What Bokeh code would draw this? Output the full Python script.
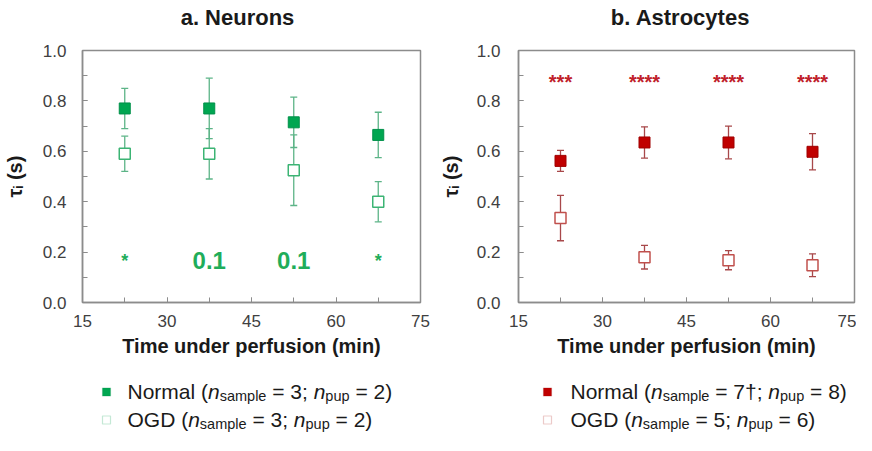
import math
from bokeh.plotting import figure
from bokeh.models import (ColumnDataSource, Whisker, TeeHead, Label, BoxAnnotation,
                          SingleIntervalTicker, Range1d, PrintfTickFormatter)
from bokeh.layouts import row, column
from bokeh.embed import file_html
from bokeh.resources import INLINE
from bokeh.core.properties import value

# ---------------- data ----------------
times = [22.5, 37.5, 52.5, 67.5]
neuron_normal = [0.77, 0.77, 0.715, 0.665]
neuron_normal_err = [0.08, 0.12, 0.10, 0.09]
neuron_ogd = [0.59, 0.59, 0.525, 0.40]
neuron_ogd_err = [0.07, 0.10, 0.14, 0.08]
astro_normal = [0.562, 0.635, 0.635, 0.598]
astro_normal_err = [0.042, 0.062, 0.065, 0.072]
astro_ogd = [0.335, 0.18, 0.168, 0.148]
astro_ogd_err = [0.09, 0.047, 0.038, 0.045]
neuron_sig = ["*", "0.1", "0.1", "*"]
astro_sig = ["***", "****", "****", "****"]
titles = ["a. Neurons", "b. Astrocytes"]
x_label = "Time under perfusion (min)"
y_label = "\u03c4\u1d62 (s)"
legend_neuron = [("Normal (", "3", "2)"), ("OGD (", "3", "2)")]
legend_astro = [("Normal (", "7\u2020", "8)"), ("OGD (", "5", "6)")]

FONT = "Liberation Sans"
GREEN = "#00a651"
GREEN_EDGE = "#00904a"
GREEN_BAR = "#5cb487"
GREEN_OPEN = "#3cb474"
RED = "#c00000"
RED_EDGE = "#a00000"
RED_BAR = "#a8484a"
RED_OPEN = "#c0504d"
AXIS = "#8c8c8c"
TICKTXT = "#404040"
DARK = "#1a1a1a"

# Arial/Liberation metrics (per 1000 em)
W = {' ': 278, '(': 333, ')': 333, ';': 278, '=': 584, 'N': 722, 'o': 556, 'r': 333,
     'm': 833, 'a': 556, 'l': 222, 'n': 556, 's': 500, 'p': 556, 'e': 556, 'u': 556,
     'O': 778, 'G': 778, 'D': 722, '\u2020': 556, 'i': 222}

TOP_H = 34
MAIN_H = 330
LEG_H = 71


def tw(t, size, table=W):
    return sum(table.get(c, 556) for c in t) * size / 1000.0


def blank(width, height):
    p = figure(width=width, height=height, x_range=Range1d(0, width), y_range=Range1d(height, 0),
               output_backend="svg", toolbar_location=None, min_border=0,
               x_axis_type=None, y_axis_type=None)
    p.grid.visible = False
    p.outline_line_color = None
    return p


def make_title(width, title, cx):
    p = blank(width, TOP_H)
    p.add_layout(Label(x=cx, y=17, x_units="canvas", y_units="canvas", text=title,
                       text_font=FONT, text_font_size="22px", text_font_style="bold",
                       text_color=DARK, text_align="center", text_baseline="alphabetic"))
    return p


def make_panel(width, bl, br, ylab_stand, normal, nerr, ogd, oerr,
               sig, sig_y, sig_color, star_size, c_fill, c_edge, c_bar, c_open, ystand):
    p = figure(width=width, height=MAIN_H, x_range=Range1d(15, 75), y_range=Range1d(0, 1),
               output_backend="svg", toolbar_location=None, min_border_left=bl,
               min_border_right=br, min_border_top=16, min_border_bottom=62)
    p.grid.visible = False
    p.outline_line_color = AXIS
    p.outline_line_width = 1.5
    p.xaxis.ticker = SingleIntervalTicker(interval=15, num_minor_ticks=2)
    p.yaxis.ticker = SingleIntervalTicker(interval=0.2, num_minor_ticks=2)
    p.yaxis.formatter = PrintfTickFormatter(format="%.1f")
    for ax in (p.xaxis[0], p.yaxis[0]):
        ax.axis_line_color = AXIS
        ax.axis_line_width = 1.5
        ax.major_tick_line_color = AXIS
        ax.minor_tick_line_color = AXIS
        ax.major_tick_in = 5
        ax.major_tick_out = 0
        ax.minor_tick_in = 5
        ax.minor_tick_out = 0
        ax.major_label_text_font = FONT
        ax.major_label_text_font_size = "17px"
        ax.major_label_text_color = TICKTXT
        ax.axis_label_text_font = FONT
        ax.axis_label_text_font_size = "20px"
        ax.axis_label_text_font_style = "bold"
        ax.axis_label_text_color = DARK
    p.yaxis.major_label_standoff = ystand
    p.xaxis.major_label_standoff = 12
    p.xaxis.axis_label = x_label
    p.xaxis.axis_label_standoff = 5
    p.yaxis.axis_label = y_label
    p.yaxis.axis_label_standoff = ylab_stand

    src_n = ColumnDataSource(dict(x=times, y=normal,
                                  lo=[v - e for v, e in zip(normal, nerr)],
                                  hi=[v + e for v, e in zip(normal, nerr)]))
    src_o = ColumnDataSource(dict(x=times, y=ogd,
                                  lo=[v - e for v, e in zip(ogd, oerr)],
                                  hi=[v + e for v, e in zip(ogd, oerr)]))
    for src in (src_o, src_n):
        p.add_layout(Whisker(source=src, base="x", lower="lo", upper="hi",
                             line_color=c_bar, line_width=1.3,
                             upper_head=TeeHead(size=7, line_color=c_bar, line_width=1.3),
                             lower_head=TeeHead(size=7, line_color=c_bar, line_width=1.3)))
    p.scatter("x", "y", source=src_o, marker="square", size=11, fill_color="white",
              line_color=c_open, line_width=1.5)
    p.scatter("x", "y", source=src_n, marker="square", size=11, fill_color=c_fill,
              line_color=c_edge, line_width=1)

    # significance marks
    fs = [star_size if s.startswith("*") else "24px" for s in sig]
    ssrc = ColumnDataSource(dict(x=times, y=[sig_y] * len(sig), t=sig, fs=fs))
    p.text("x", "y", text="t", source=ssrc, text_font=value(FONT), text_font_size="fs",
           text_font_style="bold", text_color=sig_color, text_align="center",
           text_baseline="middle")
    return p


def make_legend(width, legend, c_fill, c_edge, c_open, leg_x, leg_tx):
    p = blank(width, LEG_H)
    F, S = 21, 14.5
    for i, (pre, ns, np_) in enumerate(legend):
        base = [27, 55][i]
        cy = base + 0.5
        fill = c_fill if i == 0 else "white"
        edge = c_edge if i == 0 else c_open
        p.add_layout(BoxAnnotation(left=leg_x - 4, right=leg_x + 4, top=cy - 4, bottom=cy + 4,
                                   left_units="canvas", right_units="canvas",
                                   top_units="canvas", bottom_units="canvas",
                                   fill_color=fill, fill_alpha=1, line_color=edge,
                                   line_width=1.2))
        parts = [(pre, F, False, 0), ("n", F, True, 0), ("sample", S, False, 4),
                 (" = " + ns + "; ", F, False, 0), ("n", F, True, 0),
                 ("pup", S, False, 4), (" = " + np_, F, False, 0)]
        cx = leg_tx
        for text, size, italic, dy in parts:
            lead = len(text) - len(text.lstrip(" "))
            core = text.strip(" ")
            p.add_layout(Label(x=cx + tw(" " * lead, size), y=base + dy, x_units="canvas",
                               y_units="canvas", text=core, text_font=FONT,
                               text_font_size=f"{size}px",
                               text_font_style="italic" if italic else "normal",
                               text_color=DARK, text_baseline="alphabetic",
                               text_align="left"))
            cx += tw(text, size)
    return p


t1 = make_title(434, titles[0], 237)
t2 = make_title(422, titles[1], 246)
p1 = make_panel(434, 82, 14, 14, neuron_normal, neuron_normal_err,
                neuron_ogd, neuron_ogd_err, neuron_sig, 0.165, "#1fad5a", "18px",
                GREEN, GREEN_EDGE, GREEN_BAR, GREEN_OPEN, 16)
p2 = make_panel(422, 84, 2, 12, astro_normal, astro_normal_err,
                astro_ogd, astro_ogd_err, astro_sig, 0.875, "#c0202a", "20px",
                RED, RED_EDGE, RED_BAR, RED_OPEN, 18)
l1 = make_legend(434, legend_neuron, GREEN, GREEN_EDGE, GREEN_OPEN, 106, 127)
l2 = make_legend(422, legend_astro, RED, RED_EDGE, RED_OPEN, 113, 136)

layout = column(row(t1, t2), row(p1, p2), row(l1, l2))
open("out.html", "w").write(file_html(layout, INLINE))
